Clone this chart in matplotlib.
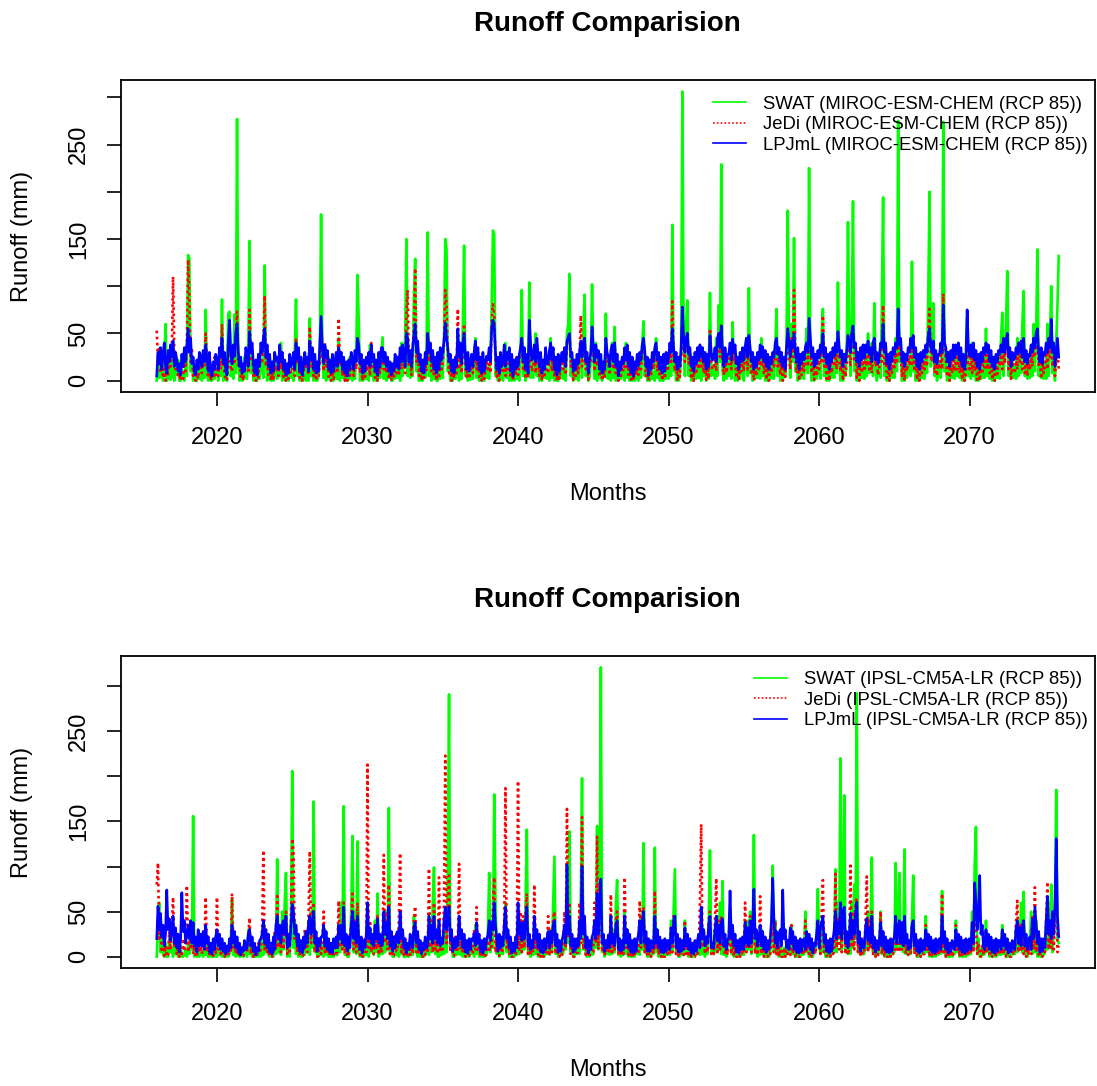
import numpy as np
import matplotlib
matplotlib.use("Agg")
import matplotlib.pyplot as plt

matplotlib.rc("font", family=["Liberation Sans", "DejaVu Sans"])

start_year = 2016
n_years = 60

# monthly runoff (mm), one row per year 2016..2075
swat_miroc = [
    [0,25,3,28,8,0,15,60,0,2,30,1], [4,35,0,18,6,22,0,0,12,3,0,20], [5,133,129,10,25,0,8,0,0,15,2,18],
    [0,25,3,75,8,0,20,0,0,12,2,14], [12,0,30,5,86,0,15,1,0,71,73,5], [15,2,70,8,277,20,0,12,0,1,25,3],
    [2,45,148,8,30,0,12,0,0,18,2,22], [18,3,122,20,0,25,2,0,10,0,30,5], [2,22,5,40,0,15,1,0,18,0,25,3],
    [8,0,30,86,5,20,0,12,0,1,22,0], [12,0,66,5,20,0,15,0,0,5,30,176], [40,3,35,0,15,25,1,0,12,0,20,2],
    [2,45,0,25,3,18,0,0,10,1,25,3], [0,18,2,30,112,64,0,15,0,1,20,2], [8,0,38,5,22,0,15,0,0,20,3,25],
    [46,2,28,0,20,3,12,0,0,18,2,20], [3,25,0,40,5,20,45,150,5,25,3,30], [5,90,129,10,30,0,15,0,0,22,3,25],
    [157,5,40,0,25,2,15,0,0,20,2,25], [3,45,150,139,10,25,0,12,0,20,2,14], [12,0,30,2,60,143,5,20,0,12,1,18],
    [2,25,45,3,28,0,15,0,12,0,20,3], [12,2,30,80,159,155,5,15,0,12,2,20], [0,25,40,3,22,0,12,0,18,0,20,2],
    [8,0,35,96,5,25,0,12,5,104,3,15], [3,30,50,5,25,0,18,0,12,3,25,2], [10,0,45,3,25,0,15,0,0,20,3,12],
    [2,20,0,50,60,113,5,20,0,12,2,18], [0,22,35,3,50,91,5,18,0,3,20,102], [25,2,40,0,25,3,15,0,12,4,71,3],
    [2,22,0,40,3,57,0,15,0,18,2,10], [8,0,40,3,25,0,12,0,15,0,20,2], [0,18,3,40,63,5,20,0,12,0,18,2],
    [9,0,45,3,25,0,15,0,0,22,2,14], [2,30,5,165,10,25,0,12,0,5,30,306], [50,5,60,85,5,30,0,15,0,20,2,15],
    [3,25,0,35,5,22,0,15,2,93,5,12], [15,2,45,5,80,20,229,10,0,25,2,18], [5,35,2,62,20,0,25,0,12,2,22,15],
    [0,30,45,5,98,8,25,0,12,2,20,3], [12,2,45,5,25,0,18,0,10,2,25,3], [2,30,76,5,25,0,18,0,10,5,40,180],
    [40,3,60,20,151,10,25,0,12,2,20,3], [2,30,55,8,225,20,0,15,0,18,2,14], [12,2,50,76,5,25,0,15,0,20,3,15],
    [3,35,8,104,20,0,25,0,15,5,30,168], [45,5,60,190,10,30,0,18,0,22,3,16], [2,28,5,50,8,25,40,5,82,20,0,12],
    [15,3,80,194,5,30,0,18,0,22,3,15], [3,45,10,275,20,40,0,15,0,22,3,16], [20,5,126,10,25,0,18,0,12,2,20,3],
    [2,35,8,90,200,15,30,82,5,20,0,12], [18,3,45,274,10,30,0,15,0,22,3,15], [2,30,5,40,3,25,0,15,0,10,67,5],
    [12,2,40,5,25,0,18,0,12,2,22,3], [3,55,5,35,2,25,0,15,0,20,3,15], [2,45,72,5,30,60,116,5,25,2,20,3],
    [15,2,45,5,40,8,60,95,5,22,2,12], [3,35,5,60,10,50,139,5,25,3,20,2], [20,2,60,5,40,100,8,25,0,40,80,132],
]
jedi_miroc = [
    [53,20,35,8,25,3,12,0,18,5,30,15], [25,110,30,12,22,3,8,0,15,2,25,10], [40,128,90,20,35,5,15,0,8,2,20,12],
    [8,30,15,50,20,3,18,0,10,2,25,6], [15,5,30,12,60,20,8,1,0,30,40,12], [10,35,20,45,73,15,25,3,8,0,20,15],
    [25,8,75,20,30,5,12,0,10,2,25,18], [20,40,90,15,35,6,20,0,12,2,28,10], [15,5,35,12,30,4,18,0,10,2,25,8],
    [10,25,5,45,20,30,3,15,0,8,20,12], [18,6,57,15,30,5,20,0,12,4,20,45], [25,10,40,15,28,4,18,0,10,2,15,20],
    [8,66,15,30,5,20,0,12,0,15,5,22], [15,5,28,12,37,30,8,20,0,12,4,18], [10,28,5,40,12,25,3,15,0,20,8,28],
    [35,12,28,8,20,2,12,0,10,2,22,8], [18,5,30,12,35,20,8,70,96,15,28,6], [30,60,119,20,35,5,18,0,12,3,25,10],
    [50,20,35,10,25,4,15,0,20,2,28,12], [20,40,96,80,30,8,20,0,12,2,20,8], [76,12,35,8,30,60,15,4,20,2,12,22],
    [8,25,40,12,30,4,15,0,20,2,12,20], [12,30,8,60,81,70,20,4,15,0,22,8], [10,30,5,25,12,28,3,18,0,15,5,20],
    [6,22,30,45,10,28,2,18,3,40,25,10], [15,30,8,35,20,5,22,0,15,3,28,10], [8,25,35,10,28,4,18,0,20,2,15,22],
    [12,30,6,40,45,50,15,22,1,15,5,20], [8,22,69,15,35,45,12,22,1,15,20,40], [28,10,35,15,25,4,18,0,12,3,35,18],
    [18,6,25,35,12,40,8,20,0,12,5,18], [10,28,12,30,6,22,1,15,0,12,5,20], [6,22,12,35,40,22,5,15,0,15,5,20],
    [12,28,35,10,22,4,15,0,20,2,22,10], [15,30,20,84,25,10,20,1,15,4,25,60], [30,20,45,50,18,28,2,15,0,22,7,25],
    [12,28,15,30,8,22,1,18,2,55,20,12], [15,25,10,45,50,25,60,20,6,25,8,18], [18,30,12,40,20,28,3,15,0,22,10,25],
    [10,28,35,12,45,25,6,20,0,15,5,22], [12,28,15,30,8,25,1,18,0,15,8,22], [15,28,45,15,25,6,20,0,15,4,25,55],
    [30,12,45,25,96,35,8,22,0,18,6,20], [10,28,40,15,50,35,8,22,1,15,5,22], [12,30,18,69,15,25,2,18,0,20,8,25],
    [15,30,12,45,25,10,22,0,18,4,20,45], [30,15,50,55,20,30,3,20,0,25,8,28], [10,25,15,35,12,25,8,35,40,15,20,6],
    [15,30,20,80,15,30,3,18,0,22,8,25], [14,30,18,60,25,35,5,20,0,18,10,25], [18,35,15,35,10,25,1,18,0,20,8,22],
    [12,28,15,50,76,25,20,40,8,22,5,18], [15,30,12,92,30,25,4,20,0,22,8,28], [10,28,12,30,8,25,1,18,0,8,35,15],
    [12,28,8,28,10,22,1,18,0,20,7,25], [14,30,12,28,8,22,1,15,0,20,7,22], [15,28,12,35,18,35,40,12,25,2,20,8],
    [10,25,12,35,20,35,12,35,8,22,5,18], [12,28,15,40,25,40,45,15,25,2,20,8], [15,30,12,40,25,40,15,25,5,20,35,12],
]
lpjml_miroc = [
    [5,30,18,35,12,28,40,15,8,32,20,38], [25,42,15,30,22,10,18,6,28,15,35,20], [38,55,30,45,18,25,10,6,22,12,30,26],
    [15,32,20,38,24,10,30,8,5,20,12,28], [22,12,35,25,45,18,30,10,6,40,64,30], [18,38,26,50,60,30,15,25,8,18,10,35],
    [28,15,52,30,40,18,8,22,6,28,15,40], [30,45,55,25,38,15,28,8,20,10,30,22], [25,12,38,20,30,12,22,6,18,8,28,15],
    [20,30,12,40,22,35,10,25,6,15,30,18], [25,10,42,22,35,12,28,8,20,10,40,68], [35,18,38,25,32,12,22,8,28,10,20,30],
    [15,35,20,30,12,25,8,20,5,22,12,30], [22,12,32,20,45,38,18,28,8,22,10,25], [18,30,15,38,20,28,10,22,6,30,15,35],
    [35,20,30,15,25,10,20,6,18,10,28,15], [25,12,35,20,38,28,15,50,45,20,32,15], [35,48,60,30,42,20,28,10,22,8,30,18],
    [50,30,40,20,32,12,25,8,30,12,35,22], [30,42,61,45,35,20,28,10,22,8,25,15], [55,25,40,18,38,50,25,12,30,10,20,28],
    [15,30,42,22,35,12,25,8,30,10,20,26], [22,35,20,55,64,58,30,12,25,8,30,15], [20,38,15,30,22,35,10,28,5,22,12,25],
    [15,28,35,45,20,35,12,28,8,64,40,22], [25,38,20,45,28,15,30,8,22,12,35,18], [18,32,40,22,35,12,25,6,28,10,22,30],
    [20,35,15,42,46,50,25,30,10,22,12,28], [18,30,42,25,38,45,20,30,8,22,30,57], [35,20,38,25,32,12,28,8,20,12,45,30],
    [25,15,32,38,20,40,15,28,5,20,12,25], [18,35,22,38,15,30,8,25,5,20,12,28], [16,30,22,38,45,32,15,25,6,22,12,30],
    [20,35,40,22,30,12,25,8,28,10,30,18], [24,40,30,55,35,20,30,12,25,15,35,78], [45,30,45,50,28,35,15,25,10,30,18,35],
    [22,38,25,35,20,30,12,28,15,48,30,22], [25,35,20,45,50,35,58,30,15,35,20,28], [28,40,22,44,30,38,18,25,12,30,20,35],
    [22,35,45,25,48,35,20,30,12,25,15,30], [22,38,25,36,20,32,15,28,12,25,18,30], [25,40,45,28,35,20,30,15,25,12,35,55],
    [40,25,42,35,50,30,20,35,12,28,18,30], [22,35,40,30,66,45,25,35,15,28,18,32], [24,38,30,50,25,35,18,28,12,30,20,35],
    [26,40,30,52,35,25,32,15,28,20,32,48], [40,30,50,58,35,40,20,30,15,35,22,38], [24,38,30,42,28,35,20,40,45,22,30,18],
    [26,40,35,60,30,40,18,28,12,30,20,35], [28,40,35,76,38,45,20,30,15,28,22,35], [30,45,35,48,25,35,15,28,12,30,20,32],
    [25,38,30,48,55,35,30,42,20,32,18,28], [28,40,30,80,40,35,20,30,15,32,22,38], [24,38,28,40,22,35,15,28,12,25,75,35],
    [26,38,25,40,22,32,15,28,12,30,20,35], [28,40,30,38,20,32,15,25,12,28,20,32], [28,38,30,45,30,42,50,25,35,15,30,22],
    [24,35,28,40,30,42,25,45,20,32,18,28], [26,38,30,45,35,50,55,30,20,35,18,30], [28,40,30,45,35,65,30,40,15,30,45,25],
]

swat_ipsl = [
    [0,40,60,5,25,2,0,15,0,0,20,5], [10,0,25,3,18,0,0,12,0,0,2,8], [0,15,3,40,8,156,0,5,0,12,0,3],
    [5,0,15,2,12,0,0,8,0,0,10,0], [0,25,2,10,0,12,0,0,5,0,3,10], [64,2,20,0,12,1,0,0,8,0,2,8],
    [0,30,3,15,0,10,0,0,5,0,12,0], [20,2,35,5,25,2,0,10,0,0,25,3], [108,5,30,2,50,8,60,93,0,15,0,40],
    [206,10,40,3,25,0,12,0,0,10,2,20], [5,40,2,50,10,172,5,20,0,0,15,2], [15,0,30,2,20,0,0,10,0,0,12,2],
    [2,30,5,60,10,167,2,20,0,0,15,50], [134,5,50,3,128,10,0,15,0,0,12,2], [25,0,30,5,20,2,40,5,70,0,12,3],
    [3,45,5,50,10,165,3,20,0,0,15,2], [20,0,30,3,18,0,0,12,0,0,15,2], [2,45,5,20,0,15,0,0,10,0,18,3],
    [12,2,40,5,60,99,3,20,0,0,15,2], [20,3,40,5,100,291,8,25,0,0,15,2], [3,40,2,20,0,12,0,0,10,0,18,3],
    [12,0,35,3,22,0,0,12,0,0,15,2], [30,93,5,40,10,180,66,3,20,0,15,3], [3,30,60,5,25,0,0,12,0,0,15,2],
    [20,3,40,5,40,8,60,141,3,20,0,12], [2,40,3,20,0,12,0,0,10,0,15,3], [10,2,30,5,60,111,3,20,0,0,12,2],
    [3,30,8,70,15,139,5,20,0,0,15,3], [20,3,60,198,8,25,3,0,12,0,15,2], [3,40,10,145,8,40,321,5,20,0,15,3],
    [15,2,25,3,30,5,60,85,2,15,0,10], [2,50,3,20,0,12,0,0,10,0,15,3], [12,2,45,8,126,5,20,0,0,12,0,12],
    [3,121,5,30,0,15,0,0,10,0,15,2], [15,2,40,5,50,97,3,20,0,0,12,2], [2,40,3,20,0,12,0,0,10,0,15,3],
    [15,2,35,3,15,0,20,3,40,118,5,10], [3,30,5,45,8,60,3,84,2,15,0,12], [15,50,3,25,0,12,0,0,10,0,15,3],
    [2,30,5,40,8,50,3,20,135,5,15,0], [12,2,30,3,20,0,0,12,0,5,30,101], [5,40,3,20,0,12,0,0,10,0,15,3],
    [12,2,35,3,20,0,0,12,0,0,15,2], [3,50,5,20,0,12,0,0,8,5,30,75], [20,3,35,5,25,0,0,12,0,0,15,3],
    [10,97,5,60,20,220,8,30,179,5,20,3], [20,3,60,10,80,20,292,5,25,2,15,3], [3,30,8,50,10,40,110,5,20,0,12,2],
    [15,50,3,25,0,12,0,0,10,0,15,3], [5,104,8,40,93,10,30,5,119,3,15,2], [15,3,40,90,5,20,0,0,12,0,15,3],
    [3,45,5,20,0,12,0,0,10,0,15,2], [20,3,73,5,25,0,12,0,0,10,0,3], [3,40,5,20,0,12,0,0,10,0,15,2],
    [20,3,50,8,100,144,5,20,0,0,12,2], [3,40,5,20,0,12,0,0,10,0,15,2], [12,2,35,3,20,0,0,12,0,0,15,3],
    [3,30,5,40,8,60,5,72,3,15,0,10], [15,50,3,25,5,40,0,12,0,0,15,2], [5,40,8,60,10,80,5,30,50,185,20,15],
]
jedi_ipsl = [
    [80,104,20,35,5,25,1,12,0,2,28,8], [30,66,10,25,3,18,0,8,0,20,6,15], [79,5,30,8,25,3,12,0,0,15,5,12],
    [3,25,10,66,5,22,1,0,12,1,20,4], [66,8,25,3,18,2,0,12,0,1,15,4], [70,10,25,3,18,2,0,10,0,1,15,5],
    [5,25,43,3,20,0,12,0,0,15,4,10], [30,118,8,30,5,25,0,12,0,2,28,8], [70,10,30,5,35,8,40,50,3,15,6,40],
    [131,118,20,35,5,25,1,12,0,2,30,8], [5,45,117,15,40,60,5,20,0,1,22,3], [15,50,5,20,3,18,0,10,0,1,20,4],
    [5,62,10,35,8,60,3,15,0,1,25,35], [70,8,40,5,60,10,2,15,0,1,22,5], [213,10,40,5,25,3,35,8,45,2,20,4],
    [10,113,15,50,8,80,3,20,0,1,25,6], [8,40,115,5,25,2,12,0,0,15,2,15], [3,40,56,5,25,2,12,0,0,15,2,12],
    [5,98,10,40,5,60,8,30,3,88,5,15], [8,60,223,15,50,90,5,20,1,1,22,5], [10,103,8,30,3,20,0,12,0,1,18,5],
    [3,30,8,55,5,20,0,10,0,15,1,10], [25,5,40,8,60,88,5,20,1,1,18,4], [8,40,187,10,25,2,15,0,0,12,1,12],
    [195,8,50,5,45,10,50,70,3,20,1,12], [5,80,10,30,2,18,0,10,0,1,18,4], [45,3,30,5,40,50,3,15,0,0,12,2],
    [8,50,10,164,20,60,3,15,0,0,18,4], [5,60,15,155,8,20,2,12,0,0,15,4], [5,60,15,133,8,80,70,5,20,1,15,5],
    [25,3,69,5,20,8,40,50,2,12,1,10], [3,88,10,30,2,18,0,10,0,0,15,3], [5,62,10,45,55,5,20,1,0,12,0,12],
    [3,73,8,30,2,15,0,10,0,0,15,3], [15,3,35,5,45,40,3,15,0,0,12,2], [2,40,3,20,0,12,0,8,0,0,15,3],
    [8,60,147,10,30,3,20,5,40,50,3,10], [3,40,87,5,40,8,45,10,12,2,15,2], [15,50,3,25,0,12,0,0,10,0,15,3],
    [3,60,5,35,8,45,5,35,40,3,15,2], [15,67,3,20,0,12,0,0,8,3,15,45], [5,40,3,20,0,12,0,0,10,0,15,3],
    [12,2,35,3,20,0,0,12,0,0,15,2], [3,40,5,20,0,12,0,0,8,3,15,35], [20,3,50,85,5,20,1,0,12,0,15,3],
    [5,92,10,45,8,60,5,45,50,3,15,2], [8,101,10,50,8,60,65,5,20,1,15,3], [3,40,89,5,40,8,50,3,15,0,12,2],
    [15,50,3,25,0,12,0,0,10,0,15,3], [3,45,8,35,5,35,8,30,40,3,15,2], [15,3,35,40,3,20,1,0,12,0,15,3],
    [3,35,5,20,0,12,0,0,10,0,15,2], [12,3,70,5,25,0,12,0,0,10,0,3], [3,35,5,20,0,12,0,0,10,0,15,2],
    [15,3,35,5,40,45,3,15,1,0,12,2], [3,30,5,20,0,12,0,0,10,0,15,2], [12,2,30,3,20,0,0,12,0,0,15,3],
    [3,40,62,5,35,8,25,3,15,0,12,2], [15,3,45,8,77,5,25,2,0,12,0,12], [5,40,83,8,40,10,40,8,40,60,5,12],
]
lpjml_ipsl = [
    [20,56,30,48,22,35,12,25,74,30,42,18], [30,45,15,32,10,25,5,18,71,28,40,15], [25,35,20,40,15,38,12,22,5,30,12,25],
    [12,28,8,35,15,22,5,15,3,20,8,22], [30,12,25,8,20,6,15,3,12,6,20,10], [35,15,28,10,22,5,15,2,10,6,18,8],
    [10,25,30,12,22,6,15,2,10,6,18,20], [25,40,15,30,10,25,5,15,3,22,8,35], [45,20,35,15,35,40,25,45,10,25,12,35],
    [58,50,25,35,12,25,6,18,4,22,10,28], [15,38,45,25,35,50,15,28,6,20,12,22], [22,35,12,28,8,20,5,15,4,20,10,22],
    [10,35,20,35,15,55,12,25,6,22,10,35], [50,20,38,15,45,20,8,22,4,18,10,25], [60,20,32,15,25,12,35,20,42,15,25,12],
    [15,50,25,38,20,55,12,28,6,22,10,25], [28,15,50,20,30,10,20,4,15,8,25,12], [10,32,38,15,28,8,18,3,15,8,22,10],
    [12,45,20,35,15,45,20,30,15,40,12,20], [15,40,55,30,40,55,18,30,6,20,10,22], [12,45,20,30,10,25,5,18,4,20,8,20],
    [18,26,12,38,15,25,6,18,4,20,8,20], [24,40,18,38,30,60,35,20,6,25,10,22], [12,36,55,20,30,10,22,4,15,6,22,10],
    [60,25,38,18,38,20,40,55,12,25,8,18], [10,45,20,30,10,25,5,18,4,20,8,20], [28,10,28,15,35,40,12,25,5,18,6,18],
    [24,35,15,102,25,45,12,25,5,20,8,20], [12,40,20,100,25,45,10,22,4,18,8,22], [26,40,20,70,25,60,86,15,25,6,18,10],
    [24,10,45,15,25,12,35,40,8,20,6,18], [8,45,15,30,10,25,5,18,4,20,6,18], [25,40,15,38,50,15,28,6,20,6,18,10],
    [10,45,15,30,10,22,5,18,4,20,6,18], [18,8,32,15,40,45,10,25,5,20,6,18], [8,32,12,25,8,20,4,15,3,18,6,18],
    [25,10,55,20,30,12,22,15,35,45,10,15], [10,30,45,18,35,15,38,42,12,25,8,18], [22,73,20,35,12,25,5,18,4,20,8,22],
    [8,38,15,32,12,40,15,35,75,20,30,12], [20,35,12,28,8,22,5,18,8,20,40,87], [40,15,28,10,25,30,12,74,20,30,10,18],
    [8,32,15,28,8,22,5,18,4,20,6,18], [20,8,28,12,25,8,20,4,15,12,25,40], [10,32,38,45,15,25,6,18,4,20,6,18],
    [30,50,20,38,25,60,20,50,55,15,28,10], [24,48,20,40,25,48,60,15,28,6,20,10], [10,32,42,18,32,15,45,10,22,5,18,8],
    [18,38,12,28,8,22,5,18,4,20,6,18], [22,45,15,32,40,15,38,12,45,15,25,8], [18,10,35,40,12,25,6,18,4,20,6,18],
    [8,30,12,25,8,22,5,18,4,20,6,18], [20,8,45,15,28,8,20,4,15,6,18,10], [8,30,12,25,8,22,5,18,4,20,6,18],
    [20,8,38,15,82,60,30,45,90,25,35,12], [8,30,12,25,8,22,5,18,4,20,6,18], [18,8,30,12,25,8,20,4,15,6,18,10],
    [8,32,40,15,32,12,35,40,12,25,8,18], [22,8,42,20,55,35,15,28,5,20,6,20], [10,40,67,25,40,20,50,25,60,131,45,22],
]

panels = [
    ("MIROC-ESM-CHEM", swat_miroc, jedi_miroc, lpjml_miroc),
    ("IPSL-CM5A-LR", swat_ipsl, jedi_ipsl, lpjml_ipsl),
]

months = start_year + np.arange(n_years * 12) / 12.0

fig = plt.figure(figsize=(10.97, 10.86), dpi=100)
axes_pos = [[0.110, 0.6388, 0.888, 0.2875], [0.110, 0.1084, 0.888, 0.2878]]

for (gcm, swat, jedi, lpjml), pos in zip(panels, axes_pos):
    ax = fig.add_axes(pos)
    swat = np.ravel(swat)
    jedi = np.ravel(jedi)
    lpjml = np.ravel(lpjml)
    ax.plot(months, swat, color="#00FF00", lw=1.9, label="SWAT (" + gcm + " (RCP 85))")
    ax.plot(months, jedi, color="#FF0000", lw=1.9, linestyle=(0, (1, 1.3)), label="JeDi (" + gcm + " (RCP 85))")
    ax.plot(months, lpjml, color="#0000FF", lw=1.9, label="LPJmL (" + gcm + " (RCP 85))")

    # R style 4% axis extension
    xr = months[-1] - months[0]
    ax.set_xlim(months[0] - 0.04 * xr, months[-1] + 0.04 * xr)
    ymax = max(swat.max(), jedi.max(), lpjml.max())
    ax.set_ylim(-0.04 * ymax, ymax * 1.04)

    ax.set_xticks([2020, 2030, 2040, 2050, 2060, 2070])
    ax.set_yticks([0, 50, 100, 150, 200, 250, 300])
    ax.set_yticklabels(["0", "50", "", "150", "", "250", ""], rotation=90, va="center")
    ax.tick_params(direction="out", length=10, width=1.2, labelsize=17, colors="black")
    ax.tick_params(axis="x", pad=15)
    ax.tick_params(axis="y", pad=12)
    for s in ax.spines.values():
        s.set_linewidth(1.3)

    ax.set_title("Runoff Comparision", fontsize=20, fontweight="bold", pad=35)
    ax.set_xlabel("Months", fontsize=17, va="center")
    ax.xaxis.set_label_coords(0.5, -0.325)
    ax.set_ylabel("Runoff (mm)", fontsize=17, va="center")
    ax.yaxis.set_label_coords(-0.1008, 0.5)

    leg = ax.legend(loc="upper right", bbox_to_anchor=(1.009, 1.0), frameon=False, fontsize=13.3,
                    handlelength=1.8, handletextpad=0.9, labelspacing=0.19, borderaxespad=0.45, borderpad=0.4)
    for line in leg.get_lines():
        line.set_linewidth(1.2)

fig.savefig("out.png", dpi=100)
